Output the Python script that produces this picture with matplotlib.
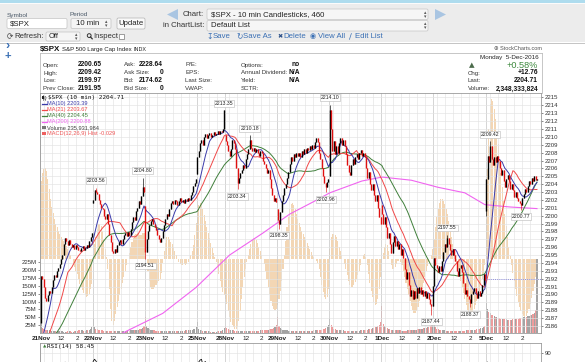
import numpy as np
import pandas as pd
import matplotlib
matplotlib.use("Agg")
import matplotlib.pyplot as plt
from matplotlib.patches import Rectangle, FancyBboxPatch, Polygon, Circle
from matplotlib.lines import Line2D

plt.rcParams['font.family'] = ['Liberation Sans', 'DejaVu Sans']

W, H = 585, 362

# ---------------- data ----------------
day_labels = ["21Nov", "22Nov", "23Nov", "25Nov", "28Nov", "29Nov", "30Nov", "1Dec", "2Dec", "5Dec"]
day_opens = [2186.43, 2201.6, 2201.2, 2205.3, 2210.2, 2200.8, 2205.0, 2201.4, 2191.1, 2200.65]

prior_closes = [2186.5, 2187.2, 2186.8, 2187.6, 2188.4, 2188.0, 2187.2, 2186.6, 2185.8, 2185.2,
                2184.6, 2184.0, 2183.4, 2183.8, 2183.0, 2182.6, 2182.2, 2182.8, 2183.2, 2182.6,
                2182.0, 2181.4, 2181.8, 2182.4, 2182.0, 2181.6, 2181.0, 2181.6, 2182.2, 2182.8,
                2183.4, 2183.0, 2182.6, 2182.2, 2182.8, 2182.4, 2182.0, 2181.6, 2181.9]

closes_21nov = [2192.4, 2192.0, 2191.0, 2189.6, 2189.2, 2189.9, 2190.5, 2190.2, 2191.0, 2191.8,
                2192.5, 2192.2, 2193.0, 2193.3, 2193.9, 2194.5, 2195.0, 2196.4, 2197.2, 2196.8,
                2196.3, 2196.9, 2196.4, 2196.0, 2196.3, 2195.8, 2196.3, 2196.0, 2195.6, 2195.5,
                2195.9, 2196.1, 2195.6, 2195.9, 2196.3, 2196.0, 2196.8, 2197.3, 2197.8]
closes_22nov = [2202.0, 2203.2, 2203.0, 2202.7, 2202.0, 2201.5, 2201.0, 2200.8, 2200.0, 2199.6,
                2200.2, 2199.0, 2197.6, 2196.6, 2195.5, 2195.2, 2195.8, 2195.4, 2196.3, 2196.6,
                2196.9, 2196.4, 2197.0, 2197.5, 2197.8, 2197.4, 2197.9, 2197.6, 2198.3, 2199.2,
                2199.8, 2199.4, 2200.6, 2201.0, 2201.8, 2201.5, 2202.5, 2203.6, 2203.0]
closes_23nov = [2195.4, 2197.0, 2198.0, 2198.8, 2199.3, 2199.6, 2199.0, 2198.6, 2198.2, 2197.5,
                2197.0, 2196.6, 2197.2, 2198.0, 2198.8, 2199.6, 2200.2, 2200.0, 2200.8, 2201.6,
                2201.9, 2201.5, 2202.0, 2201.8, 2201.4, 2201.9, 2202.2, 2201.7, 2202.0, 2201.6,
                2202.1, 2201.8, 2202.3, 2202.0, 2202.6, 2203.0, 2203.8, 2204.2, 2204.7]
closes_25nov = [2207.4, 2208.2, 2209.2, 2209.6, 2209.0, 2210.0, 2210.4, 2209.8, 2210.2, 2210.5,
                2210.0, 2210.3, 2210.6, 2210.2, 2210.4, 2210.7, 2210.4, 2210.8, 2210.6, 2211.0,
                2213.35]
closes_28nov = [2209.5, 2209.0, 2208.2, 2207.6, 2208.4, 2209.6, 2209.2, 2208.4, 2206.0, 2204.2,
                2204.8, 2205.4, 2205.8, 2206.4, 2206.0, 2207.2, 2207.8, 2208.4, 2209.6, 2208.6,
                2208.2, 2208.6, 2208.1, 2208.5, 2208.0, 2207.6, 2208.2, 2207.9, 2207.0, 2206.6,
                2206.0, 2205.4, 2205.8, 2204.6, 2203.5, 2202.6, 2201.8, 2202.2, 2201.7]
closes_29nov = [2199.5, 2198.9, 2200.5, 2201.8, 2202.6, 2203.5, 2204.0, 2204.8, 2205.5, 2206.5,
                2207.4, 2207.0, 2207.8, 2207.4, 2208.0, 2207.6, 2208.0, 2207.5, 2208.2, 2207.8,
                2208.4, 2208.0, 2208.6, 2208.3, 2208.8, 2208.4, 2209.0, 2208.6, 2209.4, 2209.8,
                2209.3, 2208.0, 2207.2, 2206.0, 2205.0, 2204.2, 2203.6, 2204.3, 2204.7]
closes_30nov = [2213.4, 2211.0, 2208.2, 2209.5, 2207.8, 2208.8, 2208.0, 2209.2, 2209.8, 2209.0,
                2209.6, 2208.8, 2207.8, 2206.4, 2205.6, 2205.2, 2206.4, 2207.2, 2206.6, 2207.4,
                2207.8, 2207.2, 2207.9, 2208.3, 2207.6, 2208.0, 2207.5, 2206.0, 2204.8, 2205.6,
                2204.0, 2203.2, 2204.0, 2202.6, 2201.8, 2202.6, 2201.0, 2199.8, 2199.0]
closes_1dec = [2200.2, 2199.0, 2199.8, 2198.5, 2197.2, 2197.8, 2196.4, 2195.2, 2196.6, 2197.4,
               2196.2, 2196.8, 2195.8, 2196.4, 2195.0, 2195.8, 2194.6, 2193.2, 2192.0, 2192.8,
               2191.2, 2189.8, 2190.6, 2189.4, 2190.4, 2189.6, 2190.8, 2190.2, 2190.9, 2190.0,
               2190.6, 2189.8, 2190.4, 2189.5, 2190.2, 2189.4, 2188.8, 2188.5, 2191.1]
closes_2dec = [2194.6, 2193.8, 2193.4, 2192.8, 2193.6, 2193.0, 2194.2, 2195.4, 2196.4, 2196.0,
               2197.2, 2196.4, 2195.6, 2195.0, 2195.8, 2195.0, 2194.2, 2193.0, 2192.4, 2193.4,
               2193.8, 2192.8, 2191.4, 2190.0, 2190.6, 2189.8, 2189.4, 2188.9, 2190.0, 2190.4,
               2190.8, 2190.2, 2189.6, 2190.4, 2189.8, 2190.2, 2191.2, 2192.6, 2191.9]
closes_5dec = [2204.6, 2207.6, 2206.8, 2208.8, 2207.2, 2206.4, 2207.4, 2206.8, 2207.6, 2206.9,
               2206.0, 2205.2, 2205.8, 2204.4, 2203.6, 2204.6, 2205.2, 2204.4, 2203.4, 2204.0,
               2203.2, 2202.4, 2203.0, 2202.2, 2201.8, 2201.6, 2201.3, 2202.2, 2202.8, 2203.4,
               2203.0, 2203.8, 2204.4, 2204.0, 2204.8, 2204.4, 2205.0, 2204.5, 2204.71]

vol_21nov = [30, 16, 12, 10, 9, 8, 8, 7, 7, 6, 6, 6, 5, 5, 5, 5, 5, 4, 4, 4,
             5, 5, 5, 4, 4, 5, 5, 6, 8, 10, 9, 8, 7, 7, 8, 9, 10, 12, 18]
vol_22nov = [48, 20, 14, 12, 10, 9, 8, 8, 7, 7, 6, 6, 6, 6, 5, 5, 5, 5, 5, 5,
             5, 5, 6, 6, 6, 6, 7, 7, 8, 8, 9, 9, 10, 10, 11, 12, 14, 16, 22]
vol_23nov = [51, 22, 15, 12, 10, 9, 8, 8, 7, 7, 6, 6, 6, 5, 5, 5, 5, 5, 5, 5,
             5, 5, 5, 6, 6, 6, 6, 7, 7, 7, 8, 8, 9, 9, 10, 11, 12, 14, 20]
vol_25nov = [35, 14, 10, 8, 7, 6, 6, 5, 5, 5, 4, 4, 4, 4, 4, 5, 5, 6, 7, 9, 16]
vol_28nov = [22, 16, 12, 10, 9, 8, 8, 7, 7, 7, 6, 6, 6, 6, 6, 5, 5, 5, 5, 6,
             6, 6, 6, 7, 7, 7, 8, 8, 9, 9, 10, 10, 11, 12, 13, 14, 16, 18, 24]
vol_29nov = [51, 22, 15, 12, 10, 9, 8, 8, 7, 7, 6, 6, 6, 6, 5, 5, 5, 5, 5, 5,
             6, 6, 6, 6, 7, 7, 7, 8, 8, 9, 9, 10, 10, 11, 12, 13, 15, 18, 24]
vol_30nov = [48, 24, 18, 14, 12, 11, 10, 9, 9, 8, 8, 7, 7, 7, 6, 6, 6, 6, 6, 6,
             7, 7, 7, 8, 8, 9, 9, 10, 11, 12, 13, 14, 15, 16, 18, 20, 22, 26, 34]
vol_1dec = [86, 30, 22, 18, 15, 13, 12, 11, 10, 10, 9, 9, 8, 8, 8, 7, 7, 7, 7, 8,
            8, 8, 9, 9, 10, 10, 11, 12, 12, 13, 14, 15, 16, 17, 18, 20, 22, 25, 32]
vol_2dec = [25, 18, 14, 12, 10, 9, 9, 8, 8, 7, 7, 7, 6, 6, 6, 6, 6, 6, 6, 6,
            6, 7, 7, 7, 8, 8, 8, 9, 9, 10, 10, 11, 12, 13, 14, 15, 16, 18, 22]
vol_5dec = [96, 75, 67, 62, 58, 56, 54, 52, 50, 48, 47, 46, 45, 44, 43, 43, 42, 42, 42, 42,
            43, 44, 44, 45, 46, 47, 48, 49, 50, 51, 52, 53, 54, 56, 58, 60, 64, 73, 236]

# MACD(12,26,9) histogram (scaled units, 1 unit = 1/60 of a point)
hist_21nov = [78, 86, 90, 91, 88, 80, 70, 60, 52, 46, 40, 35, 32, 28, 25, 22, 20, 18, 16, 13,
              10, 7, 4, 0, -4, -8, -12, -15, -20, -25, -28, -31, -34, -36, -38, -37, -35, -30, -25]
hist_22nov = [5, 15, 22, 30, 35, 35, 33, 28, 20, 10, 2, -10, -30, -50, -62, -66, -62, -55, -48, -42,
              -36, -30, -24, -18, -12, -6, 0, 6, 12, 17, 21, 24, 25, 26, 25, 24, 24, 26, 26]
hist_23nov = [12, 0, -12, -22, -28, -30, -30, -28, -26, -24, -22, -20, -14, -4, 8, 16, 22, 22, 20, 17,
              15, 12, 8, 4, 0, -3, -5, -6, -6, -5, -6, -5, -3, 0, 4, 8, 14, 24, 36]
hist_25nov = [46, 54, 56, 55, 50, 44, 38, 32, 26, 21, 16, 11, 6, 2, -3, -8, -15, -22, -28, -33, -36]
hist_28nov = [-40, -45, -52, -58, -63, -66, -68, -70, -70, -68, -62, -52, -40, -28, -18, -10, -3, 4, 10, 15,
              19, 21, 21, 19, 16, 12, 8, 4, 0, -5, -12, -20, -28, -35, -42, -47, -50, -51, -50]
hist_29nov = [-46, -40, -32, -22, -10, 4, 18, 32, 42, 50, 55, 56, 54, 50, 45, 40, 36, 32, 28, 25,
              22, 19, 16, 13, 10, 7, 4, 2, 0, -2, -4, -10, -18, -26, -33, -38, -40, -38, -30]
hist_30nov = [10, 22, 25, 25, 24, 22, 18, 12, 8, 4, 0, -5, -10, -16, -22, -26, -28, -28, -26, -23,
              -20, -16, -12, -6, 0, 4, 5, 2, -6, -15, -24, -32, -38, -43, -46, -45, -40, -30, -18]
hist_1dec = [-5, 6, 12, 15, 14, 8, 0, -6, -10, -10, -8, -5, -2, 0, -3, -6, -12, -18, -24, -30,
             -36, -42, -47, -51, -54, -54, -52, -48, -42, -36, -30, -24, -18, -12, -7, -3, 0, 4, 10]
hist_2dec = [20, 32, 42, 50, 56, 60, 60, 58, 55, 50, 45, 38, 30, 22, 15, 8, 2, -4, -10, -16,
             -22, -28, -34, -40, -46, -51, -54, -56, -56, -54, -50, -46, -42, -37, -32, -26, -20, -14, -6]
hist_5dec = [40, 90, 130, 155, 160, 158, 150, 140, 128, 115, 100, 86, 72, 58, 45, 33, 22, 12, 3, -6,
             -14, -22, -30, -37, -43, -48, -52, -55, -57, -58, -57, -54, -50, -45, -39, -32, -25, -18, -10]

marked_highs = {41: 2203.56, 76: 2204.80, 137: 2213.35, 156: 2210.18, 216: 2214.10,
                304: 2197.55, 336: 2209.42}
marked_lows = {78: 2194.51, 147: 2203.34, 178: 2198.35, 213: 2202.96, 292: 2187.44,
               321: 2188.37, 359: 2200.77}
day_low_5dec = {333: 2199.97}

ma200_idx = [50, 61, 91, 116, 141, 166, 186, 203, 216, 240, 255, 277, 297, 317, 332, 351, 371]
ma200_val = [2184.0, 2185.1, 2187.6, 2190.9, 2195.0, 2197.8, 2200.2, 2201.7, 2202.9, 2204.4,
             2204.9, 2204.5, 2203.6, 2202.9, 2201.4, 2201.1, 2200.9]

prev_close = 2191.95
price_ticks = list(range(2186, 2216))
vol_ticks_m = [25, 50, 75, 100, 125, 150, 175, 200, 225]

# ---------------- derived series ----------------
closes_by_day = [closes_21nov, closes_22nov, closes_23nov, closes_25nov, closes_28nov,
                 closes_29nov, closes_30nov, closes_1dec, closes_2dec, closes_5dec]
vols_by_day = [vol_21nov, vol_22nov, vol_23nov, vol_25nov, vol_28nov,
               vol_29nov, vol_30nov, vol_1dec, vol_2dec, vol_5dec]
hist_by_day = [hist_21nov, hist_22nov, hist_23nov, hist_25nov, hist_28nov,
               hist_29nov, hist_30nov, hist_1dec, hist_2dec, hist_5dec]
lens = [len(d) for d in closes_by_day]
starts = np.cumsum([0] + lens[:-1])
closes = np.concatenate([np.array(d, float) for d in closes_by_day])
vols = np.concatenate([np.array(v, float) for v in vols_by_day]) * 1e6
hist = np.concatenate([np.array(h, float) for h in hist_by_day]) / 60.0
n = len(closes)
idx = np.arange(n)
hidx = np.arange(len(hist))
opens = np.r_[np.nan, closes[:-1]]
opens[starts] = day_opens
highs = np.maximum(opens, closes)
lows = np.minimum(opens, closes)
for i, v in marked_highs.items():
    highs[i] = max(highs[i], v)
for i, v in marked_lows.items():
    lows[i] = min(lows[i], v)
for i, v in day_low_5dec.items():
    lows[i] = min(lows[i], v)

full = pd.Series(np.r_[prior_closes, closes])
npri = len(prior_closes)
ma10 = full.rolling(10).mean().values[npri:]
ma21 = full.rolling(21).mean().values[npri:]
ma40 = full.rolling(40).mean().values[npri:]
delta = full.diff()
gain = delta.clip(lower=0).ewm(alpha=1/14, adjust=False).mean()
loss = (-delta.clip(upper=0)).ewm(alpha=1/14, adjust=False).mean()
rsi = (100 - 100 / (1 + gain / loss)).values[npri:]

# ---------------- figure ----------------
fig = plt.figure(figsize=(W / 100, H / 100), dpi=100)
fig.patch.set_facecolor('white')


def frect(x0, y0, x1, y1):
    return [x0 / W, 1 - y1 / H, (x1 - x0) / W, (y1 - y0) / H]


ax_ui = fig.add_axes([0, 0, 1, 1], zorder=-1)
ax_ui.set_xlim(0, W)
ax_ui.set_ylim(H, 0)
ax_ui.axis('off')


def box(x, y, w, h, fc, ec, r=1.5, lw=0.5):
    ax_ui.add_patch(FancyBboxPatch((x, y), w, h, boxstyle=f"round,pad=0,rounding_size={r}",
                                   fc=fc, ec=ec, lw=lw))


def t(x, y, s, size=5.5, color='#333333', ha='left', weight='normal', **kw):
    ax_ui.text(x, y, s, fontsize=size, color=color, ha=ha, va='center', fontweight=weight, **kw)


def ft(x, y, s, size=4.2, color='#222222', ha='left', weight='normal', family=None):
    kw = {}
    if family:
        kw['family'] = family
    fig.text(x / W, 1 - y / H, s, fontsize=size, color=color, ha=ha, va='center',
             fontweight=weight, zorder=6, **kw)


def arrows(x, y):
    t(x, y - 1.8, '\u25b4', size=3.5, color='#555555', family='DejaVu Sans')
    t(x, y + 1.8, '\u25be', size=3.5, color='#555555', family='DejaVu Sans')


# toolbar
ax_ui.add_patch(Rectangle((0, 0), W, 3.2, fc='#aedcee', ec='none'))
ax_ui.add_patch(Rectangle((0, 3.2), W, 1.2, fc='#fbfbfb', ec='none'))
ax_ui.add_patch(Rectangle((0, 4.4), W, 38, fc='#ececec', ec='none'))
ax_ui.plot([0, W], [42.6, 42.6], color='#c4c4c4', lw=0.7)

t(7, 15, 'Symbol', size=4.6, color='#4b5968')
box(7, 18.5, 60, 10, '#ffffff', '#c3c3c3')
t(10, 23.6, '$SPX', size=5.6, color='#222222')
t(70, 14.5, 'Period', size=4.6, color='#4b5968')
box(71, 18.5, 40, 10, '#f5f5f5', '#c3c3c3')
t(76, 23.6, '10 min', size=5.6, color='#222222')
arrows(105, 23.6)
box(117, 18, 28, 11, '#f9f9f9', '#b3b3b3')
t(131, 23.6, 'Update', size=5.6, color='#222222', ha='center')

t(7, 36.3, '\u27f3', size=5.5, color='#444444', family='DejaVu Sans')
t(14, 36.3, 'Refresh:', size=5.6, color='#333333')
box(46, 32, 34, 9, '#f5f5f5', '#c3c3c3')
t(49, 36.5, 'Off', size=5.4, color='#222222')
arrows(75, 36.5)
ax_ui.add_patch(Circle((89.2, 35.6), 1.9, fc='none', ec='#333333', lw=0.7))
ax_ui.plot([90.5, 92.2], [37, 38.8], color='#333333', lw=0.9)
t(93.5, 36.3, 'Inspect', size=5.6, color='#333333')
ax_ui.add_patch(Rectangle((119, 33.5), 5, 5, fc='white', ec='#777777', lw=0.5))

ax_ui.add_patch(Polygon([(178, 9), (178, 20), (167, 14.5)], closed=True, fc='#a9c5e2', ec='none'))
ax_ui.add_patch(Polygon([(435, 9), (435, 20), (446, 14.5)], closed=True, fc='#a9c5e2', ec='none'))
t(204, 14.6, 'Chart:', size=5.6, color='#333333', ha='right')
box(207, 9, 221, 10.5, '#f6f6f6', '#c6c6c6')
t(211, 14.5, '$SPX - 10 min Candlesticks, 460', size=5.6, color='#222222')
arrows(424, 14.5)
t(204, 25.6, 'in ChartList:', size=5.6, color='#333333', ha='right')
box(207, 20.5, 221, 10.5, '#f6f6f6', '#c6c6c6')
t(211, 25.8, 'Default List', size=5.6, color='#222222')
arrows(424, 25.8)

link = '#3a6fb4'
t(206, 36.3, '\u21a7', size=5.5, color=link, family='DejaVu Sans')
t(213, 36.5, 'Save', size=5.6, color=link)
t(236, 36.3, '\u21bb', size=5.5, color=link, family='DejaVu Sans')
t(243, 36.5, 'Save As', size=5.6, color=link)
t(277, 36.3, '\u2716', size=4.5, color='#2a4f88', family='DejaVu Sans')
t(283, 36.5, 'Delete', size=5.6, color=link)
t(310, 36.3, '\u25c9', size=5, color=link, family='DejaVu Sans')
t(318, 36.5, 'View All', size=5.6, color=link)
t(349, 36.3, '\u2215', size=6, color=link, family='DejaVu Sans')
t(355, 36.5, 'Edit List', size=5.6, color=link)

# sidebar icons
t(5, 46.5, '\u203a', size=9, color='#3a6fb4', weight='bold')
t(4.5, 56, '+', size=8, color='#3a6fb4', weight='bold')

# chart header
t(40, 49.5, '$SPX', size=5.8, color='#111111', weight='bold')
t(61.5, 49.8, 'S&P 500 Large Cap Index', size=4.35, color='#222222')
t(133.5, 49.8, 'INDX', size=3.9, color='#222222')
t(542, 48.5, '\u2295 StockCharts.com', size=4.0, color='#555555', ha='right')
ax_ui.plot([40, 542], [53.3, 53.3], color='#bdbdbd', lw=0.6)
ax_ui.plot([40, 40], [53.3, 93], color='#bdbdbd', lw=0.6)
ax_ui.plot([542, 542], [53.3, 93], color='#bdbdbd', lw=0.6)
t(539, 57.6, 'Monday  5-Dec-2016', size=4.5, color='#222222', ha='right')

rows_y = [65, 73, 81, 89]
for y, lab, val in zip(rows_y, ['Open:', 'High:', 'Low:', 'Prev Close:'],
                       ['2200.65', '2209.42', '2199.97', '2191.95']):
    t(43, y, lab, size=4.4, color='#333333')
    t(102, y, val, size=4.8, color='#111111', ha='right', weight='bold')
for y, lab, val in zip(rows_y, ['Ask:', 'Ask Size:', 'Bid:', 'Bid Size:'],
                       ['2228.64', '0', '2174.62', '0']):
    t(124, y, lab, size=4.4, color='#333333')
    t(163, y, val, size=4.8, color='#111111', ha='right', weight='bold')
for y, lab in zip(rows_y, ['P/E:', 'EPS:', 'Last Size:', 'VWAP:']):
    t(185, y, lab, size=4.4, color='#333333')
for y, lab, val in zip(rows_y, ['Options:', 'Annual Dividend:', 'Yield:', 'SCTR:'],
                       ['no', 'N/A', 'N/A', '']):
    t(241, y, lab, size=4.4, color='#333333')
    t(300, y, val, size=4.8, color='#111111', ha='right', weight='bold')
t(472, 65, '\u25b2', size=5.2, color='#4b6b4b', ha='center', family='DejaVu Sans')
t(538, 65, '+0.58%', size=6.6, color='#3f8a3f', ha='right')
for y, lab, val in zip(rows_y[1:], ['Chg:', 'Last:', 'Volume:'],
                       ['+12.76', '2204.71', '2,348,333,824']):
    t(468, y, lab, size=4.4, color='#333333')
    t(538, y, val, size=4.8, color='#111111', ha='right', weight='bold')

# ---------------- main chart axes ----------------
rect_main = frect(40, 93, 541, 333)
ax_m = fig.add_axes(rect_main, zorder=1)
ax_v = fig.add_axes(rect_main, zorder=2, sharex=ax_m)
ax_p = fig.add_axes(rect_main, zorder=3, sharex=ax_m)
ax_v.set_facecolor('none')
ax_p.set_facecolor('none')
ax_m.set_facecolor('white')

xlim = (-0.8, 374.0)
ax_p.set_xlim(*xlim)

# MACD histogram (tan overlay)
ax_m.bar(hidx, hist, width=0.8, color='#f3d6b4', linewidth=0)
ax_m.set_ylim(-74 / 60.0, 166 / 60.0)
ax_m.axis('off')

# volume
vcol = np.where(closes >= opens, '#a3a3a3', '#ee9c9c')
ax_v.bar(idx, vols, width=0.8, color=vcol, linewidth=0)
ax_v.set_ylim(0, 763e6)
ax_v.set_yticks([m * 1e6 for m in vol_ticks_m])
ax_v.set_yticklabels([f'{m}M' for m in vol_ticks_m])
ax_v.tick_params(axis='y', left=True, right=False, labelleft=True, labelsize=4.3,
                 length=1.5, width=0.4, pad=1, colors='#333333')
ax_v.tick_params(axis='x', bottom=False, labelbottom=False)
for s in ax_v.spines.values():
    s.set_visible(False)

# grid
hour_offsets_full = [3, 9, 15, 21, 27, 33]
hour_offsets_half = [3, 9, 15]
for s0, L in zip(starts, lens):
    ax_p.axvline(s0 - 0.5, color='#c9c9c9', lw=0.55, zorder=0)
    for h in (hour_offsets_full if L >= 39 else hour_offsets_half):
        ax_p.axvline(s0 + h - 0.5, color='#e3e3e3', lw=0.45, zorder=0)
for p in price_ticks:
    ax_p.axhline(p, color='#e3e3e3', lw=0.45, zorder=0)

# moving averages
ax_p.plot(ma200_idx, ma200_val, color='#f064f0', lw=0.8, zorder=2)
ax_p.plot(idx, ma40, color='#3f7f3a', lw=0.7, zorder=2)
ax_p.plot(idx, ma21, color='#f04848', lw=0.7, zorder=2)
ax_p.plot(idx, ma10, color='#3a3aaa', lw=0.7, zorder=2)

# prev close dotted line
ax_p.hlines(prev_close, starts[-1] - 0.5, xlim[1], colors='#8f8fe0', linestyles=(0, (1, 1.2)),
            lw=0.7, zorder=2)

# candles
ccol = np.where(closes >= opens, '#000000', '#e01010')
ax_p.vlines(idx, lows, highs, colors=ccol, lw=0.45, zorder=3)
ax_p.vlines(idx, np.minimum(opens, closes), np.maximum(opens, closes), colors=ccol, lw=1.0, zorder=3)

ax_p.set_ylim(2185.11, 2215.57)
ax_p.yaxis.tick_right()
ax_p.set_yticks(price_ticks)
ax_p.set_yticklabels([str(p) for p in price_ticks])
ax_p.tick_params(axis='y', labelsize=4.3, length=1.5, width=0.4, pad=1, colors='#333333')

xt, xl = [], []
for s0, L, lab in zip(starts, lens, day_labels):
    xt.append(s0)
    xl.append(lab)
    if L >= 39:
        xt += [s0 + 15, s0 + 27]
        xl += ['12', '2']
ax_p.set_xticks(xt)
ax_p.set_xticklabels(xl)
ax_p.tick_params(axis='x', labelsize=4.6, length=0, pad=2.2, colors='#222222')
for lb in ax_p.get_xticklabels():
    if lb.get_text() in day_labels:
        lb.set_fontweight('bold')
for s in ax_p.spines.values():
    s.set_color('#9a9a9a')
    s.set_linewidth(0.6)

# swing labels
for i, v in marked_highs.items():
    ax_p.annotate(f'{v:.2f}', xy=(i, v), xytext=(0, 7), textcoords='offset pixels',
                  ha='center', va='center', fontsize=3.7, color='#222222', zorder=6,
                  annotation_clip=False,
                  bbox=dict(boxstyle='square,pad=0.18', fc='white', ec='#b8b8b8', lw=0.4))
for i, v in marked_lows.items():
    ax_p.annotate(f'{v:.2f}', xy=(i, v), xytext=(0, -7), textcoords='offset pixels',
                  ha='center', va='center', fontsize=3.7, color='#222222', zorder=6,
                  annotation_clip=False,
                  bbox=dict(boxstyle='square,pad=0.18', fc='white', ec='#b8b8b8', lw=0.4))

# legend in chart
leg_y0, leg_dy = 97.6, 6.0
# small candlestick icon (drawn as shapes)
fig.add_artist(Line2D([43.2 / W, 43.2 / W], [1 - 95.2 / H, 1 - 100.2 / H], color='#222222', lw=0.4, zorder=6))
fig.add_artist(Rectangle((42.4 / W, 1 - 99.2 / H), 1.6 / W, 2.8 / H, fc='#222222', ec='none', zorder=6))
fig.add_artist(Line2D([45.2 / W, 45.2 / W], [1 - 95.8 / H, 1 - 100.4 / H], color='#222222', lw=0.4, zorder=6))
fig.add_artist(Rectangle((44.5 / W, 1 - 99.0 / H), 1.4 / W, 2.2 / H, fc='white', ec='#222222', lw=0.3, zorder=6))
ft(47.5, leg_y0, '$SPX (10 min) 2204.71', size=4.3, color='#111111', family='DejaVu Sans Mono')
legend_items = [('MA(10) 2203.39', '#3a3aaa'), ('MA(21) 2203.67', '#f04848'),
                ('MA(40) 2204.45', '#3f7f3a'), ('MA(200) 2200.88', '#f064f0')]
for j, (txt, c) in enumerate(legend_items):
    y = leg_y0 + leg_dy * (j + 1)
    fig.add_artist(Line2D([41.5 / W, 46.5 / W], [1 - y / H, 1 - y / H], color=c, lw=0.9, zorder=6))
    ft(47, y, txt, size=4.1, color=c)
y = leg_y0 + leg_dy * 5
fig.add_artist(Rectangle((42 / W, 1 - (y + 1.6) / H), 3.5 / W, 3.2 / H, fc='#777777', ec='none', zorder=6))
ft(47, y, 'Volume 235,931,984', size=4.1, color='#444444')
y = leg_y0 + leg_dy * 6
fig.add_artist(Rectangle((42 / W, 1 - (y + 1.6) / H), 3.5 / W, 3.2 / H, fc='#ee6060', ec='none', zorder=6))
ft(47, y, 'MACD(12,26,9) Hist -0.029', size=4.1, color='#ee5555')

# ---------------- RSI panel ----------------
ax_r = fig.add_axes(frect(40, 343, 541, 443), zorder=1, sharex=ax_p)
ax_r.set_facecolor('white')
for s0, L in zip(starts, lens):
    ax_r.axvline(s0 - 0.5, color='#c9c9c9', lw=0.55, zorder=0)
    for h in (hour_offsets_full if L >= 39 else hour_offsets_half):
        ax_r.axvline(s0 + h - 0.5, color='#e3e3e3', lw=0.45, zorder=0)
ax_r.axhline(90, color='#e3e3e3', lw=0.45, zorder=0)
ax_r.plot(idx, rsi, color='#111111', lw=0.6)
ax_r.set_ylim(0, 100)
ax_r.yaxis.tick_right()
ax_r.set_yticks([90])
ax_r.tick_params(axis='y', labelsize=4.3, length=1.5, width=0.4, pad=1, colors='#333333')
ax_r.tick_params(axis='x', bottom=False, labelbottom=False)
for s in ax_r.spines.values():
    s.set_color('#9a9a9a')
    s.set_linewidth(0.6)
ft(43, 346.5, '\u25b2', size=3.2, color='#3f7f3a', family='DejaVu Sans')
ft(47, 346.5, 'RSI(14) 58.45', size=4.3, color='#111111', family='DejaVu Sans Mono')

fig.savefig('out.png', dpi=100, facecolor='white')
